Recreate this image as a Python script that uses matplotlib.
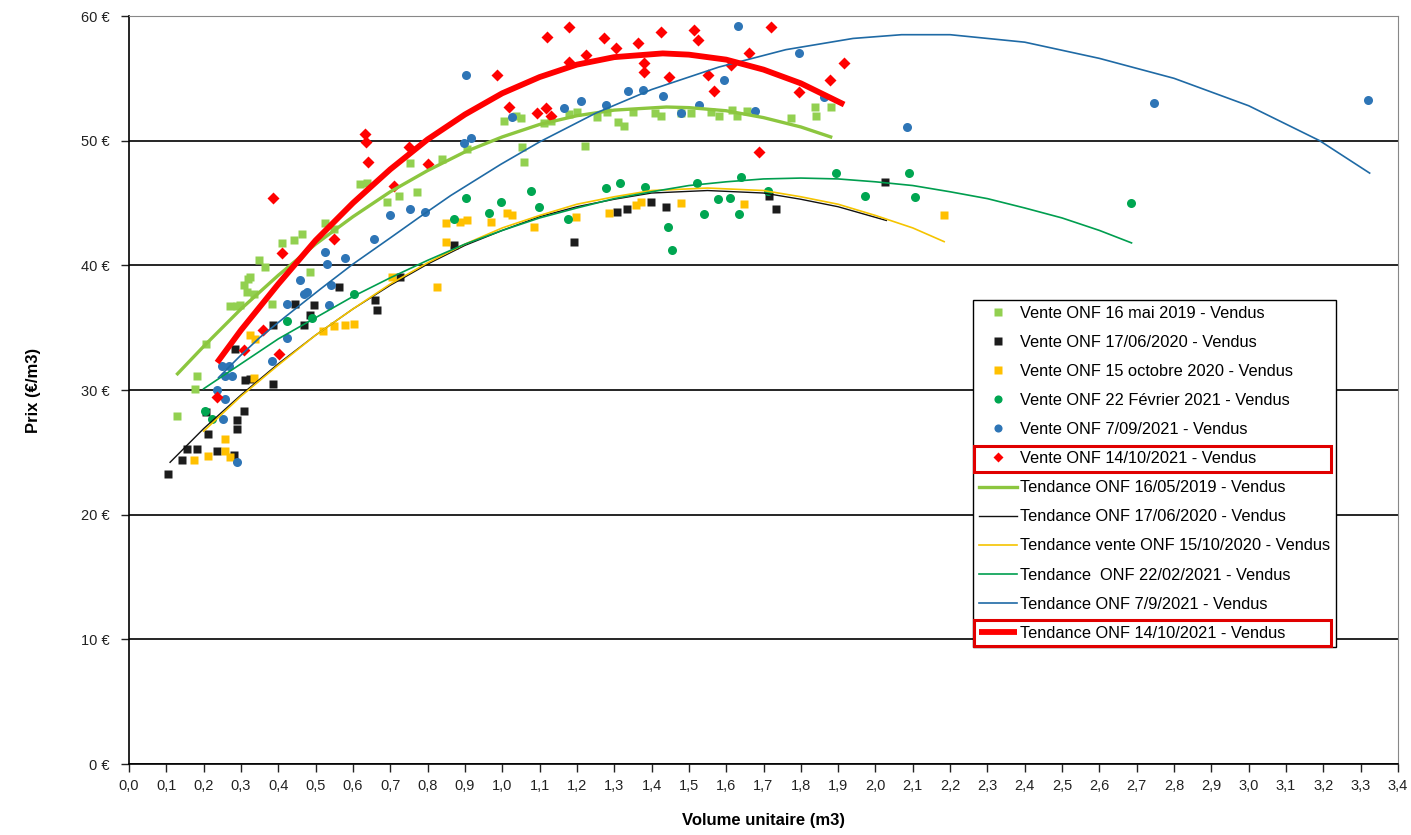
import numpy as np
import matplotlib.pyplot as plt
from matplotlib.patches import Rectangle
from matplotlib.ticker import FuncFormatter, MultipleLocator

plt.rcParams['font.family'] = ['Liberation Sans', 'DejaVu Sans']

# ---- points (volume m3, prix €/m3) ----
v2019_x = [0.128, 0.177, 0.182, 0.205, 0.271, 0.289, 0.298, 0.307, 0.316, 0.32, 0.334, 0.325,
           0.347, 0.365, 0.383, 0.41, 0.441, 0.463, 0.486, 0.526, 0.548, 0.62, 0.638, 0.692,
           0.723, 0.772, 0.754, 0.839, 0.905, 1.005, 1.036, 1.049, 1.054, 1.058, 1.112, 1.13,
           1.18, 1.201, 1.221, 1.255, 1.282, 1.309, 1.327, 1.35, 1.41, 1.425, 1.48, 1.505,
           1.56, 1.58, 1.615, 1.63, 1.655, 1.774, 1.837, 1.84, 1.88]
v2019_y = [27.9, 30.1, 31.1, 33.7, 36.7, 36.7, 36.8, 38.4, 37.9, 38.9, 37.7, 39.1,
           40.4, 39.9, 36.9, 41.8, 42.0, 42.5, 39.5, 43.4, 42.9, 46.5, 46.6, 45.1,
           45.6, 45.9, 48.2, 48.5, 49.3, 51.6, 52.0, 51.8, 49.5, 48.3, 51.4, 51.6,
           52.1, 52.3, 49.6, 51.9, 52.3, 51.5, 51.2, 52.3, 52.2, 52.0, 52.2, 52.2,
           52.3, 52.0, 52.5, 52.0, 52.4, 51.8, 52.7, 52.0, 52.7]

v2020a_x = [0.105, 0.141, 0.155, 0.182, 0.207, 0.213, 0.235, 0.28, 0.284, 0.289, 0.289, 0.307,
            0.311, 0.325, 0.387, 0.387, 0.446, 0.468, 0.486, 0.495, 0.562, 0.66, 0.665, 0.727,
            0.872, 1.191, 1.307, 1.334, 1.398, 1.438, 1.716, 1.734, 2.026]
v2020a_y = [23.3, 24.4, 25.3, 25.3, 28.2, 26.5, 25.1, 24.8, 33.3, 27.6, 26.9, 28.3,
            30.8, 30.9, 30.5, 35.2, 36.9, 35.2, 36.0, 36.8, 38.3, 37.2, 36.4, 39.1,
            41.6, 41.9, 44.3, 44.5, 45.1, 44.7, 45.6, 44.5, 46.7]

v2020b_x = [0.173, 0.213, 0.258, 0.258, 0.27, 0.325, 0.338, 0.334, 0.52, 0.55, 0.58, 0.602,
            0.705, 0.826, 0.848, 0.848, 0.888, 0.906, 0.969, 1.014, 1.027, 1.085, 1.197, 1.286,
            1.358, 1.371, 1.48, 1.649, 2.184]
v2020b_y = [24.4, 24.7, 26.1, 25.1, 24.6, 34.4, 34.1, 31.0, 34.7, 35.1, 35.2, 35.3,
            39.1, 38.3, 41.9, 43.4, 43.5, 43.6, 43.5, 44.2, 44.0, 43.1, 43.9, 44.2,
            44.8, 45.1, 45.0, 44.9, 44.0]

v2021a_x = [0.204, 0.222, 0.423, 0.49, 0.602, 0.87, 0.902, 0.964, 0.996, 1.076, 1.099, 1.175,
            1.278, 1.316, 1.382, 1.443, 1.454, 1.521, 1.541, 1.577, 1.609, 1.635, 1.64, 1.711,
            1.895, 1.971, 2.089, 2.105, 2.684]
v2021a_y = [28.3, 27.7, 35.5, 35.8, 37.7, 43.75, 45.4, 44.2, 45.1, 46.0, 44.7, 43.7,
            46.2, 46.6, 46.3, 43.1, 41.2, 46.6, 44.1, 45.3, 45.4, 44.1, 47.1, 46.0,
            47.4, 45.6, 47.4, 45.5, 45.0]

v2021b_x = [0.235, 0.253, 0.249, 0.267, 0.276, 0.258, 0.258, 0.289, 0.383, 0.423, 0.423, 0.459,
            0.468, 0.477, 0.526, 0.531, 0.54, 0.535, 0.58, 0.656, 0.7, 0.754, 0.794, 0.897,
            0.915, 0.902, 1.027, 1.166, 1.212, 1.278, 1.336, 1.376, 1.43, 1.479, 1.528, 1.595,
            1.631, 1.676, 1.796, 1.863, 2.085, 2.746, 3.319]
v2021b_y = [30.0, 27.7, 31.9, 31.9, 31.1, 31.1, 29.3, 24.2, 32.3, 34.2, 36.9, 38.8,
            37.7, 37.9, 41.1, 40.1, 38.4, 36.8, 40.6, 42.1, 44.0, 44.5, 44.3, 49.8,
            50.2, 55.3, 51.9, 52.6, 53.2, 52.9, 54.0, 54.1, 53.6, 52.2, 52.9, 54.9,
            59.2, 52.4, 57.0, 53.5, 51.1, 53.0, 53.3]

v2021c_x = [0.235, 0.307, 0.36, 0.401, 0.387, 0.41, 0.548, 0.632, 0.635, 0.64, 0.711, 0.751,
            0.80, 0.987, 1.018, 1.094, 1.116, 1.13, 1.121, 1.179, 1.179, 1.225, 1.273, 1.306,
            1.364, 1.38, 1.38, 1.425, 1.447, 1.515, 1.524, 1.55, 1.568, 1.613, 1.662, 1.689,
            1.72, 1.796, 1.877, 1.917]
v2021c_y = [29.4, 33.2, 34.8, 32.9, 45.4, 41.0, 42.1, 50.5, 49.9, 48.3, 46.4, 49.5,
            48.1, 55.3, 52.7, 52.2, 52.6, 52.0, 58.3, 59.1, 56.3, 56.9, 58.2, 57.4,
            57.8, 56.2, 55.5, 58.7, 55.1, 58.9, 58.1, 55.3, 54.0, 56.1, 57.0, 49.1,
            59.1, 53.9, 54.9, 56.2]

# ---- courbes de tendance ----
t2019_x = [0.13, 0.2, 0.3, 0.4, 0.5, 0.6, 0.7, 0.8, 0.9, 1.0, 1.1, 1.2, 1.3, 1.44, 1.5,
           1.6, 1.7, 1.8, 1.88]
t2019_y = [31.3, 33.5, 36.5, 39.2, 41.7, 43.9, 45.9, 47.6, 49.1, 50.3, 51.3, 52.0, 52.45, 52.7, 52.65,
           52.4, 51.85, 51.1, 50.3]

t2020a_x = [0.11, 0.2, 0.3, 0.4, 0.5, 0.6, 0.7, 0.8, 0.9, 1.0, 1.1, 1.2, 1.3, 1.4, 1.55,
            1.7, 1.8, 1.9, 2.029]
t2020a_y = [24.2, 26.9, 29.6, 32.1, 34.4, 36.5, 38.4, 40.1, 41.6, 42.8, 43.9, 44.7, 45.3, 45.8, 46.0,
            45.8, 45.3, 44.7, 43.6]

t2020b_x = [0.2, 0.3, 0.4, 0.5, 0.6, 0.7, 0.8, 0.9, 1.0, 1.1, 1.2, 1.3, 1.4, 1.55, 1.7,
            1.8, 1.9, 2.0, 2.1, 2.184]
t2020b_y = [26.7, 29.5, 32.0, 34.4, 36.5, 38.5, 40.2, 41.7, 43.0, 44.0, 44.9, 45.5, 46.0, 46.2, 46.0,
            45.5, 44.9, 44.0, 43.0, 41.9]

t2021a_x = [0.2, 0.3, 0.4, 0.5, 0.6, 0.7, 0.8, 0.9, 1.0, 1.1, 1.2, 1.3, 1.4, 1.5, 1.6, 1.7,
            1.8, 1.9, 2.0, 2.1, 2.2, 2.3, 2.4, 2.5, 2.6, 2.686]
t2021a_y = [30.1, 32.1, 34.1, 35.8, 37.5, 39.0, 40.4, 41.7, 42.8, 43.8, 44.6, 45.35, 45.9, 46.4, 46.7, 46.93,
            47.0, 46.93, 46.7, 46.4, 45.9, 45.35, 44.6, 43.8, 42.8, 41.8]

t2021b_x = [0.24, 0.3, 0.35, 0.42, 0.513, 0.6, 0.7, 0.78, 0.862, 0.996, 1.1, 1.25, 1.4, 1.58,
            1.76, 1.94, 2.07, 2.2, 2.4, 2.6, 2.8, 3.0, 3.19, 3.324]
t2021b_y = [31.0, 32.8, 34.2, 35.9, 38.1, 40.1, 42.2, 43.9, 45.6, 48.1, 49.9, 52.2, 54.1, 55.9,
            57.3, 58.2, 58.5, 58.5, 57.9, 56.6, 55.0, 52.8, 50.0, 47.4]

t2021c_x = [0.236, 0.3, 0.4, 0.5, 0.6, 0.7, 0.8, 0.9, 1.0, 1.1, 1.2, 1.3, 1.43, 1.5, 1.6,
            1.7, 1.8, 1.916]
t2021c_y = [32.2, 34.8, 38.5, 42.0, 45.0, 47.7, 50.1, 52.1, 53.8, 55.1, 56.1, 56.7, 57.0, 56.9, 56.5,
            55.7, 54.6, 52.9]

fig = plt.figure(figsize=(14.11, 8.35), dpi=100)
ax = fig.add_axes([129/1411, 1 - 764/835, (1398 - 129)/1411, (764 - 16)/835])

# nuages de points
p1, = ax.plot(v2019_x, v2019_y, 's', color='#92D050', ms=6.3, mec='none', label='Vente ONF 16 mai 2019 - Vendus')
p2, = ax.plot(v2020a_x, v2020a_y, 's', color='#1c1c1c', ms=6.3, mec='none', label='Vente ONF 17/06/2020 - Vendus')
p3, = ax.plot(v2020b_x, v2020b_y, 's', color='#FFC000', ms=6.3, mec='none', label='Vente ONF 15 octobre 2020 - Vendus')
p4, = ax.plot(v2021a_x, v2021a_y, 'o', color='#00A651', ms=6.5, mec='none', label='Vente ONF 22 Février 2021 - Vendus')
p5, = ax.plot(v2021b_x, v2021b_y, 'o', color='#2E75B6', ms=6.5, mec='none', label='Vente ONF 7/09/2021 - Vendus')
p6, = ax.plot(v2021c_x, v2021c_y, 'D', color='#FF0000', ms=6, mec='none', label='Vente ONF 14/10/2021 - Vendus')

# tendances
l1, = ax.plot(t2019_x, t2019_y, '-', color='#8CC63F', lw=2.4, label='Tendance ONF 16/05/2019 - Vendus')
l2, = ax.plot(t2020a_x, t2020a_y, '-', color='#111111', lw=1.0, label='Tendance ONF 17/06/2020 - Vendus')
l3, = ax.plot(t2020b_x, t2020b_y, '-', color='#F5C400', lw=1.2, label='Tendance vente ONF 15/10/2020 - Vendus')
l4, = ax.plot(t2021a_x, t2021a_y, '-', color='#009E4F', lw=1.2, label='Tendance  ONF 22/02/2021 - Vendus')
l5, = ax.plot(t2021b_x, t2021b_y, '-', color='#1F6AA5', lw=1.2, label='Tendance ONF 7/9/2021 - Vendus')
l6, = ax.plot(t2021c_x, t2021c_y, '-', color='#FF0000', lw=4.2, solid_capstyle='butt',
              label='Tendance ONF 14/10/2021 - Vendus')

ax.set_xlim(0, 3.4)
ax.set_ylim(0, 60)
ax.xaxis.set_major_locator(MultipleLocator(0.1))
ax.yaxis.set_major_locator(MultipleLocator(10))
ax.xaxis.set_major_formatter(FuncFormatter(lambda v, p: f"{v:.1f}".replace('.', ',')))
ax.yaxis.set_major_formatter(FuncFormatter(lambda v, p: f"{v:.0f} €"))
ax.tick_params(axis='both', direction='out', length=6, width=1, labelsize=10.5, colors='#222222')
ax.tick_params(axis='x', pad=5)
ax.tick_params(axis='y', pad=8)
ax.grid(axis='y', color='black', lw=1.2)
ax.set_axisbelow(True)
ax.spines['left'].set_color('black')
ax.spines['bottom'].set_color('black')
ax.spines['left'].set_linewidth(1.2)
ax.spines['bottom'].set_linewidth(1.2)
ax.spines['top'].set_color('#888888')
ax.spines['right'].set_color('#888888')

ax.set_xlabel('Volume unitaire (m3)', fontsize=12, fontweight='bold', labelpad=14)
ax.set_ylabel('Prix (€/m3)', fontsize=12, fontweight='bold', labelpad=29)

handles = [p1, p2, p3, p4, p5, p6, l1, l2, l3, l4, l5, l6]
leg = ax.legend(handles=handles, loc='upper left', bbox_to_anchor=(973/1411, 1 - 300/835),
                bbox_transform=fig.transFigure, fontsize=11.8, frameon=True, fancybox=False,
                edgecolor='black', framealpha=1, handlelength=2.35, handletextpad=0.15,
                labelspacing=0.86, borderpad=0.35, borderaxespad=0, markerscale=0.9)
leg.get_frame().set_linewidth(1.0)

# cadres rouges autour des entrées du 14/10/2021
fig.canvas.draw()
lb = leg.get_window_extent()
for i in (5, 11):
    tb = leg.get_texts()[i].get_window_extent()
    cy = (tb.y0 + tb.y1) / 2
    fig.patches.append(Rectangle((lb.x0 + 1, cy - 13), lb.width - 6, 26, transform=None,
                                 fill=False, edgecolor='#E00000', lw=2.2, figure=fig))

fig.savefig('out.png', dpi=100)
